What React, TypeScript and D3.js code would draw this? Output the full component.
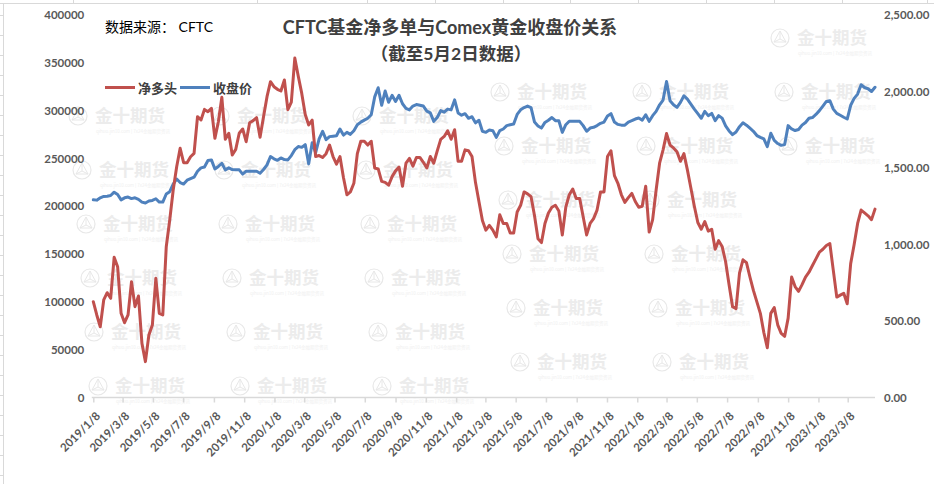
import { useEffect, useRef } from "react";
import * as d3 from "d3";

// weekly data, first week 2019/1/8, last week 2023/5/2
const startDate = "2019/1/8";

// CFTC 基金净多头 (left axis)
const netLong = [
  100200, 86300, 74000, 102000, 109600, 103700, 146600, 136800, 88000, 78200,
  86300, 121100, 95000, 106100, 56600, 37500, 65300, 75800, 124600, 88000,
  86300, 157700, 185600, 217000, 241400, 260600, 245600, 245600, 251800, 255300,
  293700, 290200, 301300, 298900, 302400, 271000, 288400, 313900, 270000, 276300,
  253600, 259500, 276300, 280800, 267500, 287400, 289500, 292600, 272100, 293700,
  314600, 330300, 325000, 322300, 320500, 332000, 301000, 309000, 355000, 336000,
  318000, 296000, 285000, 290000, 252000, 253000, 251000, 255000, 264000, 252000,
  244000, 252000, 230000, 212000, 215000, 224000, 255000, 268000, 268000, 264000,
  268000, 240000, 239000, 226000, 225000, 222000, 231000, 237000, 241000, 221000,
  245000, 250000, 242000, 251000, 251000, 246000, 240000, 252000, 245000, 258000,
  270000, 273000, 279000, 270000, 280000, 247000, 247000, 259000, 258000, 252000,
  225000, 205000, 185000, 175000, 180000, 175000, 168000, 191000, 182000, 182000,
  172000, 172000, 194000, 201000, 215000, 213000, 210000, 190000, 166000, 162000,
  182000, 193000, 199000, 201000, 195000, 170000, 199000, 212000, 218000, 208000,
  208000, 189000, 170000, 182000, 187000, 196000, 215000, 215000, 252000, 258000,
  232000, 224000, 212000, 204000, 209000, 213500, 205000, 199000, 200000, 221000,
  173000, 186000, 217000, 245000, 259000, 276000, 264000, 261000, 257000, 247000,
  255000, 238000, 219000, 200000, 183000, 176000, 184000, 174000, 176000, 155000,
  164000, 158000, 142000, 118000, 95000, 93000, 130000, 144000, 141000, 126000,
  112000, 100000, 88000, 68000, 52000, 88000, 94000, 76000, 67000, 64000,
  83000, 126000, 116000, 111000, 118000, 126000, 131000, 138000, 145000, 152000,
  155000, 159000, 161000, 133000, 105000, 107000, 109000, 98000, 140000, 160000,
  182000, 196000, 193000, 190000, 186000, 197000,
];

// Comex 黄金收盘价 (right axis)
const closePrice = [
  1292, 1290, 1305, 1314, 1315, 1320, 1342, 1327, 1292, 1305,
  1310, 1300, 1305, 1295, 1277, 1271, 1284, 1288, 1299, 1277,
  1277, 1330, 1345, 1395, 1428, 1405, 1395, 1420, 1430, 1440,
  1479, 1501, 1507, 1549, 1553, 1494, 1510, 1531, 1488, 1501,
  1490, 1488, 1488, 1460, 1479, 1479, 1479, 1479, 1466, 1490,
  1520, 1575, 1560, 1550, 1566, 1555, 1553, 1581, 1620, 1640,
  1635, 1653, 1527, 1665, 1600, 1690, 1740, 1685, 1705, 1708,
  1711, 1755, 1715, 1733, 1720, 1744, 1783, 1800, 1813, 1825,
  1848, 1965, 2025, 1910, 2003, 1930, 1975, 1935, 1975, 1920,
  1890, 1880, 1905, 1915, 1910, 1905, 1872, 1860, 1805, 1830,
  1875, 1865, 1885, 1880, 1945, 1860, 1845, 1855, 1825, 1835,
  1795, 1812, 1740, 1733, 1748, 1744, 1700, 1744, 1755, 1777,
  1783, 1787, 1850, 1880, 1895, 1905, 1895, 1800, 1775, 1761,
  1798, 1812, 1830, 1809, 1809, 1733, 1783, 1806, 1805, 1805,
  1805, 1777, 1740, 1761, 1766, 1777, 1792, 1800, 1840, 1855,
  1800, 1785, 1780, 1780, 1800, 1809, 1820, 1827, 1813, 1848,
  1805, 1842, 1870, 1913, 1944, 2065, 1939, 1913, 1896, 1929,
  1972, 1950, 1918, 1885, 1855, 1825, 1870, 1842, 1857, 1809,
  1842, 1826, 1775, 1742, 1718, 1735, 1770, 1795, 1780, 1760,
  1740, 1712, 1700, 1690, 1640, 1727, 1680, 1660, 1648, 1653,
  1777, 1755, 1745, 1752, 1780, 1797, 1825, 1830, 1850, 1875,
  1905, 1935, 1940, 1885, 1857, 1845, 1832, 1820, 1910, 1955,
  1983, 2044, 2026, 2018, 2000, 2028,
];

const xTickLabels = [
  "2019/1/8", "2019/3/8", "2019/5/8", "2019/7/8", "2019/9/8", "2019/11/8",
  "2020/1/8", "2020/3/8", "2020/5/8", "2020/7/8", "2020/9/8", "2020/11/8",
  "2021/1/8", "2021/3/8", "2021/5/8", "2021/7/8", "2021/9/8", "2021/11/8",
  "2022/1/8", "2022/3/8", "2022/5/8", "2022/7/8", "2022/9/8", "2022/11/8",
  "2023/1/8", "2023/3/8",
];
const leftTicks = [0, 50000, 100000, 150000, 200000, 250000, 300000, 350000, 400000];
const rightTicks = [0, 500, 1000, 1500, 2000, 2500];

const W = 934;
const H = 484;

// boxes the faint watermark should stay clear of (title, source, legend)
const keepClear = [
  [262, 8, 640, 66],
  [98, 14, 220, 38],
  [98, 76, 258, 98],
];

const App = () => {
  const ref = useRef<SVGSVGElement>(null);

  useEffect(() => {
    if (!ref.current) return;
    const svg = d3.select(ref.current);
    svg.selectAll("*").remove();

    const parse = d3.timeParse("%Y/%m/%d");
    const start = parse(startDate);
    const dates = netLong.map((_, i) => d3.timeDay.offset(start, i * 7));
    const margin = { left: 93.3, right: 875, top: 15, bottom: 397.5 };

    const x = d3
      .scaleTime()
      .domain([dates[0], dates[dates.length - 1]])
      .range([margin.left, margin.right]);
    const yL = d3.scaleLinear().domain([0, 400000]).range([margin.bottom, margin.top]);
    const yR = d3.scaleLinear().domain([0, 2500]).range([margin.bottom, margin.top]);

    const axisFont = "Lato, 'Noto Sans', sans-serif";
    const cjkFont = "Lato, 'Noto Sans CJK SC', sans-serif";

    svg.append("rect").attr("width", W).attr("height", H).attr("fill", "#fff");

    // spreadsheet edges behind the chart
    const sheet = svg.append("g").attr("stroke", "#d9d9d9").attr("stroke-width", 1);
    sheet.append("line").attr("x1", 0).attr("x2", W).attr("y1", 3.5).attr("y2", 3.5);
    sheet.append("line").attr("x1", 3.5).attr("x2", 3.5).attr("y1", 3.5).attr("y2", H);
    [73, 257, 367, 435, 503, 570, 638, 706, 774, 842, 927].forEach((cx) =>
      sheet.append("line").attr("x1", cx + 0.5).attr("x2", cx + 0.5).attr("y1", 0).attr("y2", 3.5)
    );
    d3.range(15, H, 20).forEach((ry) =>
      sheet.append("line").attr("x1", 0).attr("x2", 3.5).attr("y1", ry + 0.5).attr("y2", ry + 0.5)
    );

    // watermark
    const wm = svg.append("g").attr("pointer-events", "none");
    for (let c = 0; c < 6; c++) {
      for (let r = -1; r < 7; r++) {
        const wx = 91 + 142 * c + 4 * r;
        const wy = (c < 3 ? 62 : 92) + 54 * r;
        if (wy < 20 || wy > 392 || wx + 72 > 878) continue;
        const hit = keepClear.some(
          ([x0, y0, x1, y1]) => wx - 27 < x1 && wx + 72 > x0 && wy - 12 < y1 && wy + 18 > y0
        );
        if (hit) continue;
        const g = wm.append("g").attr("transform", `translate(${wx},${wy})`);
        g.append("circle")
          .attr("cx", -17)
          .attr("cy", 0)
          .attr("r", 9)
          .attr("fill", "none")
          .attr("stroke", "#e8e8e8")
          .attr("stroke-width", 1.2);
        g.append("path")
          .attr("d", "M-23,4L-17,-7L-11,4Z M-17,-7L-17,1 M-23,4L-17,1L-11,4")
          .attr("fill", "none")
          .attr("stroke", "#e8e8e8")
          .attr("stroke-width", 1);
        g.append("text")
          .attr("x", 0)
          .attr("y", 6)
          .attr("font-family", "'Noto Sans CJK SC', sans-serif")
          .attr("font-size", 17.5)
          .attr("font-weight", "bold")
          .attr("fill", "#ececec")
          .text("金十期货");
        g.append("text")
          .attr("x", 1)
          .attr("y", 17)
          .attr("font-family", "'Noto Sans CJK SC', sans-serif")
          .attr("font-size", 4.5)
          .attr("fill", "#efefef")
          .text("qihuo.jin10.com | 7x24金融期货资讯");
      }
    }

    // x axis
    svg
      .append("line")
      .attr("x1", margin.left - 1.5)
      .attr("x2", margin.right)
      .attr("y1", margin.bottom)
      .attr("y2", margin.bottom)
      .attr("stroke", "#d9d9d9")
      .attr("stroke-width", 1.5);

    const tickDates = xTickLabels.map((s) => parse(s));
    const xAxis = svg
      .append("g")
      .attr("transform", `translate(0, ${margin.bottom})`)
      .call(
        d3
          .axisBottom(x)
          .tickValues(tickDates)
          .tickSize(5)
          .tickFormat(d3.timeFormat("%Y/%-m/%-d"))
      );
    xAxis.select(".domain").remove();
    xAxis.selectAll(".tick line").attr("stroke", "#d9d9d9").attr("stroke-width", 1.5);
    xAxis
      .selectAll(".tick text")
      .attr("font-family", axisFont)
      .attr("font-size", 11.5)
      .attr("font-weight", "bold")
      .attr("fill", "#595959")
      .attr("text-anchor", "end")
      .attr("dominant-baseline", "central")
      .attr("x", 0)
      .attr("y", 0)
      .attr("dy", null)
      .attr("transform", "translate(4, 16) rotate(-45)");

    // left axis
    const leftAxis = svg
      .append("g")
      .attr("transform", `translate(${margin.left}, 0)`)
      .call(d3.axisLeft(yL).tickValues(leftTicks).tickSize(0).tickPadding(9).tickFormat(d3.format("d")));
    leftAxis.select(".domain").remove();
    leftAxis
      .selectAll(".tick text")
      .attr("font-family", axisFont)
      .attr("font-size", 11.5)
      .attr("font-weight", "bold")
      .attr("fill", "#595959");

    // right axis
    const rightAxis = svg
      .append("g")
      .attr("transform", `translate(${margin.right}, 0)`)
      .call(d3.axisRight(yR).tickValues(rightTicks).tickSize(0).tickPadding(9).tickFormat(d3.format(",.2f")));
    rightAxis.select(".domain").remove();
    rightAxis
      .selectAll(".tick text")
      .attr("font-family", axisFont)
      .attr("font-size", 11.5)
      .attr("font-weight", "bold")
      .attr("fill", "#595959");

    // lines
    const lineL = d3
      .line<number>()
      .x((_, i) => x(dates[i]))
      .y((d) => yL(d));
    const lineR = d3
      .line<number>()
      .x((_, i) => x(dates[i]))
      .y((d) => yR(d));

    svg
      .append("path")
      .datum(closePrice)
      .attr("fill", "none")
      .attr("stroke", "#4F81BD")
      .attr("stroke-width", 3)
      .attr("stroke-linejoin", "round")
      .attr("stroke-linecap", "round")
      .attr("d", lineR);

    svg
      .append("path")
      .datum(netLong)
      .attr("fill", "none")
      .attr("stroke", "#C0504D")
      .attr("stroke-width", 3)
      .attr("stroke-linejoin", "round")
      .attr("stroke-linecap", "round")
      .attr("d", lineL);

    // title
    svg
      .append("text")
      .attr("x", 450)
      .attr("y", 34)
      .attr("text-anchor", "middle")
      .attr("font-family", cjkFont)
      .attr("font-size", 18)
      .attr("font-weight", "bold")
      .attr("fill", "#404040")
      .text("CFTC基金净多单与Comex黄金收盘价关系");
    svg
      .append("text")
      .attr("x", 451)
      .attr("y", 60)
      .attr("text-anchor", "middle")
      .attr("font-family", cjkFont)
      .attr("font-size", 17.5)
      .attr("font-weight", "bold")
      .attr("fill", "#404040")
      .text("（截至5月2日数据）");

    svg
      .append("text")
      .attr("x", 105)
      .attr("y", 32)
      .attr("font-family", cjkFont)
      .attr("font-size", 14)
      .attr("fill", "#000")
      .text("数据来源： CFTC");

    // legend
    const legend = [
      { label: "净多头", color: "#C0504D", x: 105 },
      { label: "收盘价", color: "#4F81BD", x: 180 },
    ];
    legend.forEach((l) => {
      svg
        .append("line")
        .attr("x1", l.x)
        .attr("x2", l.x + 30)
        .attr("y1", 87.5)
        .attr("y2", 87.5)
        .attr("stroke", l.color)
        .attr("stroke-width", 3);
      svg
        .append("text")
        .attr("x", l.x + 33)
        .attr("y", 92.5)
        .attr("font-family", cjkFont)
        .attr("font-size", 13)
        .attr("font-weight", "bold")
        .attr("fill", "#404040")
        .text(l.label);
    });
  }, []);

  return (
    <svg
      ref={ref}
      width={W}
      height={H}
      style={{ position: "absolute", left: 0, top: 0, display: "block" }}
    />
  );
};

export default App;
